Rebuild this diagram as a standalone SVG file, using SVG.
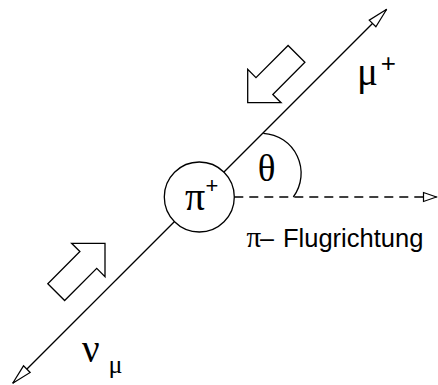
<svg xmlns="http://www.w3.org/2000/svg" width="438" height="385" viewBox="0 0 438 385">
<style>
.ln{stroke:#000;stroke-width:1.3;fill:none}
.dash{stroke:#000;stroke-width:1.3;fill:none;stroke-dasharray:9 6}
.blk{fill:#fff;stroke:#000;stroke-width:1.3;stroke-linejoin:miter}
.gr{font-family:"Liberation Serif","DejaVu Serif",serif;fill:#000}
.sn{font-family:"Liberation Sans",Arial,sans-serif;fill:#000}
</style>
<defs>
<marker id="head" markerUnits="userSpaceOnUse" orient="auto" refX="0" refY="0" markerWidth="30" markerHeight="30" overflow="visible">
<path d="M0,0 L-20,-4.7 L-20,4.7 Z" fill="#fff" stroke="#000" stroke-width="1.2"/>
</marker>
<marker id="headsm" markerUnits="userSpaceOnUse" orient="auto" refX="0" refY="0" markerWidth="30" markerHeight="30" overflow="visible">
<path d="M0,0 L-13,-4.5 L-13,4.5 Z" fill="#fff" stroke="#000" stroke-width="1.2"/>
</marker>
<polygon id="blockarrow" points="0,0 -23.6,-23.6 -23.6,-11.9 -69,-11.9 -69,11.9 -23.6,11.9 -23.6,23.6"/>
</defs>
<g id="connectors">
<line class="ln" x1="223.7" y1="172.3" x2="386.7" y2="9.3" marker-end="url(#head)"/>
<line class="ln" x1="174.3" y1="221.7" x2="12.7" y2="383.3" marker-end="url(#head)"/>
<line class="dash" x1="234.3" y1="197" x2="436.5" y2="197" marker-end="url(#headsm)"/>
<path id="angle-arc" class="ln" d="M263.3,133.3 A40,40 0 0 1 293.3,197"/>
</g>
<g id="flow-in-arrow">
<use href="#blockarrow" class="blk" transform="translate(247.7,102.7) rotate(135)"/>
</g>
<g id="flow-out-arrow">
<use href="#blockarrow" class="blk" transform="translate(105,243.3) rotate(-45)"/>
</g>
<g id="pion">
<circle class="ln" cx="199.3" cy="197" r="35"/>
<text class="gr" x="185" y="210" font-size="40">π</text>
<text class="sn" x="205.5" y="192.5" font-size="22">+</text>
</g>
<g id="muon">
<text class="gr" x="357" y="85" font-size="39">μ</text>
<text class="sn" x="380.7" y="71.5" font-size="26">+</text>
</g>
<g id="neutrino">
<text class="gr" x="82" y="361.7" font-size="39">ν</text>
<text class="gr" x="108.5" y="373.3" font-size="26">μ</text>
</g>
<g id="theta">
<text class="gr" x="266.5" y="181" font-size="37" text-anchor="middle">θ</text>
</g>
<g id="direction-label">
<text y="246.5"><tspan class="gr" x="246.5" font-size="29">π</tspan><tspan class="sn" x="260" font-size="25">–</tspan><tspan class="sn" x="283" font-size="25.5">Flugrichtung</tspan></text>
</g>
</svg>
